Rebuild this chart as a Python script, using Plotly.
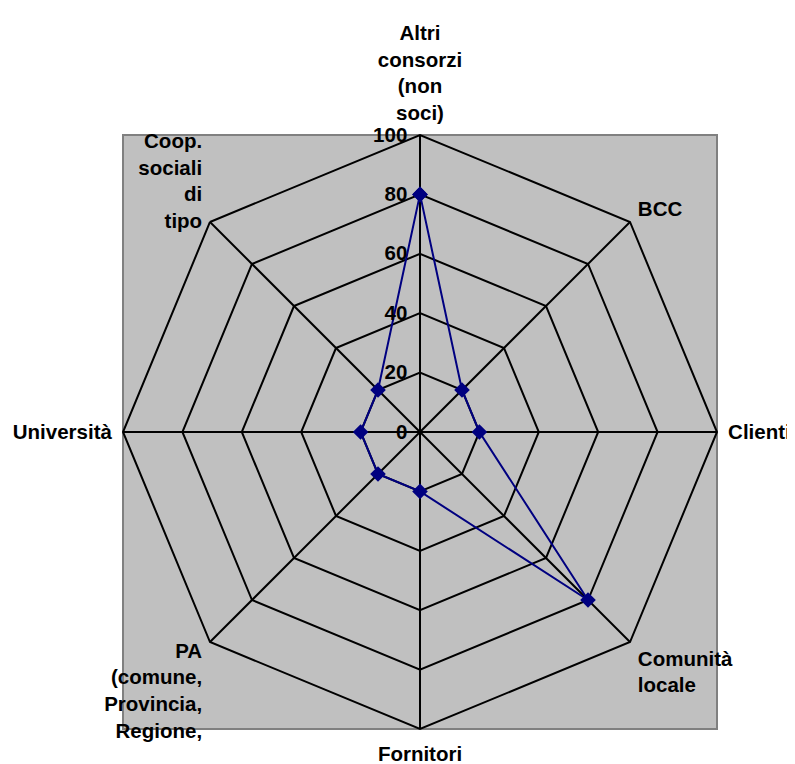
import plotly.graph_objects as go

categories = [
    "Altri<br>consorzi<br>(non<br>soci)",
    "BCC",
    "Clienti",
    "Comunità<br>locale",
    "Fornitori",
    "PA<br>(comune,<br>Provincia,<br>Regione,",
    "Università",
    "Coop.<br>sociali<br>di<br>tipo",
]
values = [80, 20, 20, 80, 20, 20, 20, 20]
radial_ticks = [0, 20, 40, 60, 80, 100]

FAMILY = "Liberation Sans, Arial, sans-serif"
TICKFONT = dict(family=FAMILY, size=20.5, color="black")

fig = go.Figure()
fig.add_trace(go.Scatterpolar(
    r=values + values[:1],
    theta=categories + categories[:1],
    mode="lines+markers",
    line=dict(color="#000080", width=2),
    marker=dict(symbol="diamond", size=12, color="#000080"),
    showlegend=False,
))

fig.add_shape(type="rect", xref="paper", yref="paper", x0=0, x1=1, y0=0, y1=1,
              fillcolor="#C0C0C0", line=dict(color="#808080", width=2), layer="below")

fig.update_layout(
    width=787, height=756,
    margin=dict(l=115, r=78, t=127, b=35),
    paper_bgcolor="white",
    plot_bgcolor="rgba(0,0,0,0)",
    font=dict(family=FAMILY, size=20.5, color="black"),
    polar=dict(
        domain=dict(x=[0, 1], y=[0, 1]),
        bgcolor="rgba(0,0,0,0)",
        gridshape="linear",
        angularaxis=dict(
            direction="clockwise", rotation=90,
            showline=True, linecolor="black", linewidth=2,
            gridcolor="black", gridwidth=2,
            tickvals=categories,
            ticktext=["<b>" + c + "</b>" for c in categories],
            ticks="outside", ticklen=6, tickcolor="rgba(0,0,0,0)",
            tickfont=TICKFONT,
        ),
        radialaxis=dict(
            range=[0, 100], tickvals=radial_ticks,
            ticktext=["<b>%d</b>" % v for v in radial_ticks],
            angle=90, tickangle=90,
            side="counterclockwise",
            showline=False, gridcolor="black", gridwidth=2,
            ticks="outside", ticklen=5, tickcolor="rgba(0,0,0,0)",
            tickfont=TICKFONT,
        ),
    ),
)

fig.write_html("out.html")
